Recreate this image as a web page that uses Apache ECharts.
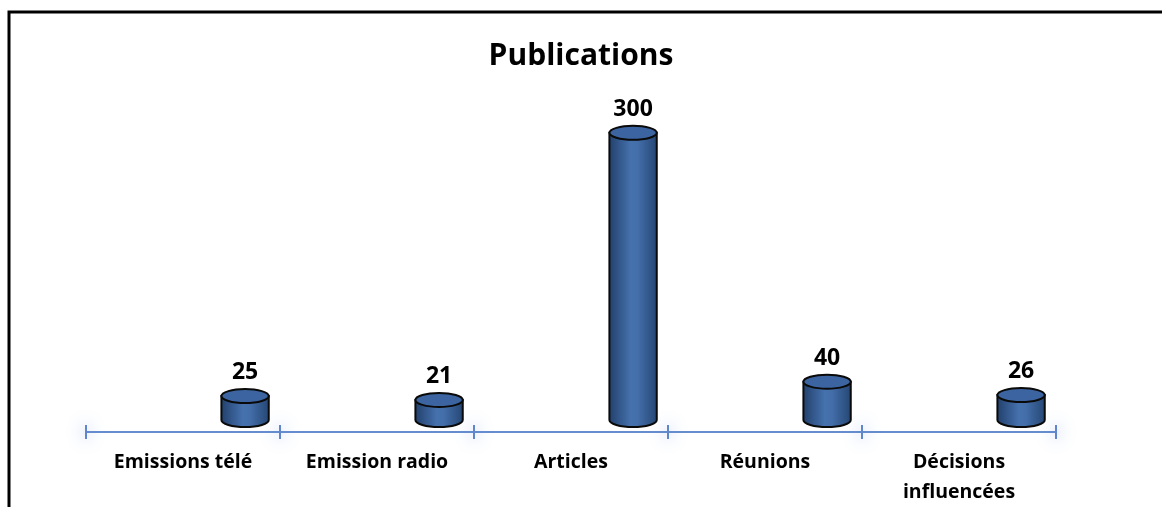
<!DOCTYPE html>
<html><head><meta charset="utf-8">
<script src="https://cdn.jsdelivr.net/npm/echarts@6/dist/echarts.min.js"></script>
<style>html,body{margin:0;padding:0;background:#fff}#c{width:1162px;height:507px}</style>
</head><body><div id="c"></div>
<script>
const title = 'Publications';
const categories = ['Emissions télé', 'Emission radio', 'Articles', 'Réunions', 'Décisions\ninfluencées'];
const values = [25, 21, 300, 40, 26];

const chart = echarts.init(document.getElementById('c'), null, {renderer: 'canvas'});
const FONT = 'Open Sans';
const axisColor = '#5f86cc';

function renderCyl(params, api) {
  const i = api.value(0), v = api.value(1);
  const base = api.coord([i, 0]);
  const top = api.coord([i, v]);
  const band = api.size([1, 0])[0];
  const cx = base[0] + band * 0.32;
  const dy = -12;
  const rx = band * 0.122;
  const ry = 7;
  const by = base[1] + dy, ty = top[1] + dy;
  const l = cx - rx, r = cx + rx;
  const grad = new echarts.graphic.LinearGradient(0, 0, 1, 0, [
    {offset: 0, color: '#213f6a'},
    {offset: 0.45, color: '#4571ad'},
    {offset: 0.6, color: '#436ea9'},
    {offset: 1, color: '#244572'}
  ]);
  return {
    type: 'group',
    children: [
      {type: 'path', shape: {pathData: `M${l},${ty} L${l},${by} A${rx},${ry} 0 0 0 ${r},${by} L${r},${ty} Z`},
        style: {fill: grad, stroke: '#0a0a0a', lineWidth: 2}},
      {type: 'ellipse', shape: {cx: cx, cy: ty, rx: rx, ry: ry},
        style: {fill: '#3b64a0', stroke: '#0a0a0a', lineWidth: 2}},
      {type: 'text', style: {text: String(v), x: cx, y: ty - 12, align: 'center', verticalAlign: 'bottom',
        font: `bold 23px "${FONT}"`, fill: '#000'}}
    ]
  };
}

const baseAxis = {
  type: 'category', data: categories, boundaryGap: true,
  axisLine: {show: true, lineStyle: {color: axisColor, width: 1.5}},
  splitLine: {show: false}
};
const tickStyle = {color: axisColor, width: 2, shadowColor: 'rgba(60,110,210,1)', shadowBlur: 16};

chart.setOption({
  animation: false,
  title: {text: title, left: 'center', top: 36, textStyle: {fontFamily: FONT, fontWeight: 'bold', fontSize: 30, color: '#000'}},
  grid: {left: 86, right: 106, top: 97, bottom: 74},
  xAxis: [
    Object.assign({}, baseAxis, {
      axisTick: {show: true, length: 7, interval: 0, lineStyle: tickStyle},
      axisLabel: {interval: 0, margin: 15, color: '#000', fontFamily: FONT, fontWeight: 'bold', fontSize: 19.5, lineHeight: 30}
    }),
    Object.assign({}, baseAxis, {
      position: 'bottom',
      axisTick: {show: true, inside: true, length: 7, interval: 0, lineStyle: tickStyle},
      axisLabel: {show: false}
    })
  ],
  yAxis: {type: 'value', min: 0, max: 350, show: false},
  graphic: [
    {type: 'polyline', shape: {points: [[9, 507], [9, 12], [1162, 12]]}, style: {stroke: '#000', lineWidth: 3, fill: null}, z: 10}
  ],
  series: [{
    type: 'custom', renderItem: renderCyl, xAxisIndex: 0,
    data: values.map((v, i) => [i, v])
  }]
});
</script></body></html>
